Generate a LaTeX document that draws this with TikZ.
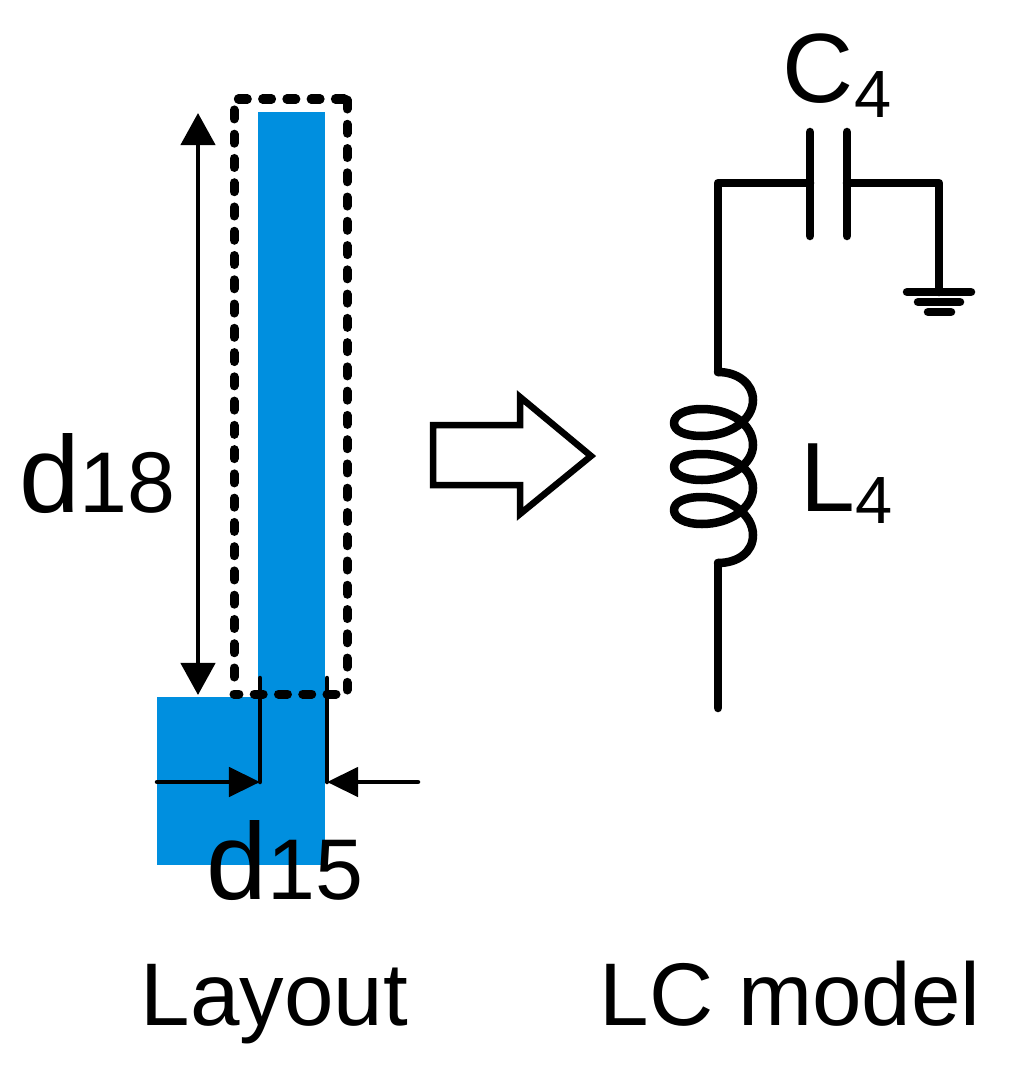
\documentclass[tikz,border=0pt]{standalone}
\usepackage{fontspec}
\setmainfont{Liberation Sans}
\usetikzlibrary{arrows.meta,positioning}
\definecolor{padblue}{HTML}{008FDF}
\tikzset{
  wire/.style={line width=0.085cm, line cap=round, line join=round},
  dashbox/.style={line width=0.09cm, line cap=round, line join=round, dash pattern=on 0.09cm off 0.1525cm},
  dimline/.style={line width=0.045cm, line cap=round},
  dimarrow/.style={dimline, -{Triangle[length=0.31cm,width=0.29cm]}},
  lenarrow/.style={dimline, {Triangle[length=0.32cm,width=0.34cm]}-{Triangle[length=0.32cm,width=0.34cm]}},
  biglabel/.style={inner sep=0, anchor=base west, font=\fontsize{25.3}{25.3}\selectfont},
  dlabel/.style={inner sep=0, anchor=base west, font=\fontsize{31}{31}\selectfont},
  numlabel/.style={inner sep=0, anchor=base west, font=\fontsize{24.5}{24.5}\selectfont},
  capslabel/.style={inner sep=0, anchor=base west, font=\fontsize{28}{28}\selectfont},
  sublabel/.style={inner sep=0, anchor=base west, font=\fontsize{19}{19}\selectfont}
}
\begin{document}
\begin{tikzpicture}[x=0.01cm,y=-0.01cm]
\useasboundingbox (0,0) rectangle (1010,1070);
% layout
\fill[padblue] (258,112) rectangle (325,697);
\fill[padblue] (157,697) rectangle (325,865);
\draw[dashbox] (234,677) -- (234,99) -- (347,99);
\draw[dashbox] (347,100) -- (347,690);
\draw[dashbox] (336,694) -- (234,694);
\coordinate (dtop) at (198,113);
\coordinate (dbot) at (198,695);
\draw[lenarrow] (dtop) -- (dbot);
\coordinate (wla) at (260,678);
\coordinate (wlb) at (260,782);
\coordinate (wra) at (327,678);
\coordinate (wrb) at (327,782);
\coordinate (wlout) at (157,782);
\coordinate (wrout) at (418,782);
\draw[dimline] (wla) -- (wlb);
\draw[dimline] (wra) -- (wrb);
\draw[dimarrow] (wlout) -- (wlb);
\draw[dimarrow] (wrout) -- (wrb);
\node[dlabel] (d18a) at (19,512) {d};
\node[numlabel] (d18b) at (79,512) {18};
\node[dlabel] (d15a) at (206,899) {d};
\node[numlabel] (d15b) at (267,899) {15};
\node[biglabel] (layout) at (140,1025) {Layout};
% big arrow
\draw[line width=0.065cm, line join=miter, fill=white] (433,425) -- (520,425) -- (520,397) -- (591,456) -- (520,514) -- (520,485) -- (433,485) -- cycle;
% LC model
\coordinate (ctop) at (718,183);
\coordinate (capl) at (810,183);
\coordinate (capr) at (847,183);
\coordinate (cright) at (939,183);
\coordinate (gnd) at (939,292);
\coordinate (ltop) at (718,372);
\coordinate (lbot) at (718,563);
\coordinate (lend) at (718,708);
\draw[wire] (ltop) -- (ctop) -- (capl);
\draw[wire] (capr) -- (cright) -- (gnd);
\draw[wire] (810,132) -- (810,236);
\draw[wire] (847,132) -- (847,236);
\draw[wire] (907,292) -- (971,292);
\draw[wire] (918,302) -- (960,302);
\draw[wire] (928,312) -- (951,312);
\draw[wire] (lbot) -- (lend);
\draw[wire] (ltop) .. controls (738,372) and (753,384) .. (753,400)
  .. controls (753,420) and (730,436) .. (702,436)
  .. controls (685,436) and (674,431) .. (674,423)
  .. controls (674,415) and (685,409) .. (702,409)
  .. controls (730,409) and (753,424) .. (753,445)
  .. controls (753,464) and (730,480) .. (702,480)
  .. controls (685,480) and (674,475) .. (674,467)
  .. controls (674,459) and (685,454) .. (702,454)
  .. controls (730,454) and (753,468) .. (753,488)
  .. controls (753,508) and (730,524) .. (702,524)
  .. controls (685,524) and (674,518) .. (674,510)
  .. controls (674,502) and (685,497) .. (702,497)
  .. controls (730,497) and (753,515) .. (753,535)
  .. controls (753,552) and (738,563) .. (lbot);
\node[capslabel] (c4a) at (782,103) {C};
\node[sublabel] (c4b) at (854,117) {4};
\node[capslabel] (l4a) at (800,511) {L};
\node[sublabel] (l4b) at (855,523) {4};
\node[biglabel] (lcmodel) at (599,1025) {LC model};
\end{tikzpicture}
\end{document}
